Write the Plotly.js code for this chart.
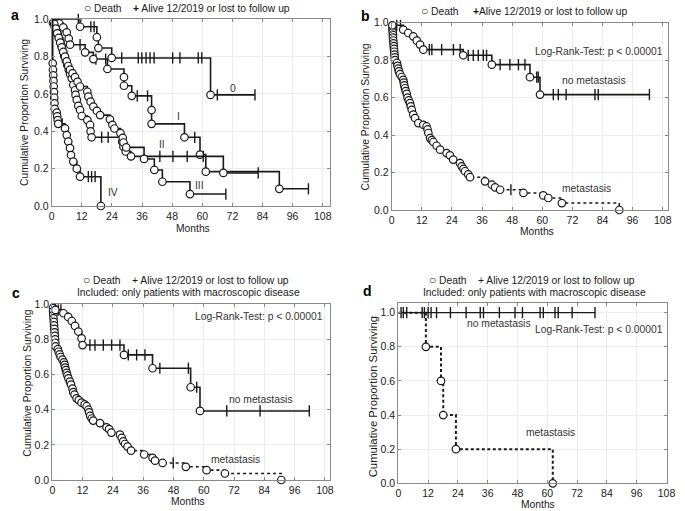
<!DOCTYPE html>
<html><head><meta charset="utf-8">
<script src="https://cdn.plot.ly/plotly-3.0.1.min.js"></script>
<style>html,body{margin:0;padding:0;background:#fff}</style>
</head><body><div id="chart" style="width:685px;height:511px"></div>
<script>
// ---------- axis ticks ----------
const xTickVals = [0, 12, 24, 36, 48, 60, 72, 84, 96, 108];
const xTickText = ['0', '12', '24', '36', '48', '60', '72', '84', '96', '108'];
const yTickVals = [0, 0.2, 0.4, 0.6, 0.8, 1.0];
const yTickText = ['0.0', '0.2', '0.4', '0.6', '0.8', '1.0'];

// ---------- panel a : stages ----------
const aStage0DeathT = [11.3, 18.0, 18.6, 23.9, 63.3];
const aStage0DeathS = [0.96, 0.904, 0.846, 0.793, 0.595];
const aStage0CensorT = [10.6, 15.6, 16.9, 27.9, 34.5, 35.9, 37.6, 39.2, 40.8, 48.2, 51.1, 58.4, 59.8, 66.0, 81.0];

const aStage1DeathT = [3.0, 4.6, 6.0, 6.8, 7.3, 13.3, 16.6, 22.2, 28.8, 28.8, 31.9, 39.8, 39.8, 52.9, 59.1, 61.4, 90.7];
const aStage1DeathS = [0.978, 0.957, 0.93, 0.897, 0.864, 0.823, 0.787, 0.734, 0.69, 0.644, 0.59, 0.514, 0.44, 0.368, 0.275, 0.184, 0.092];
const aStage1CensorT = [11.3, 17.6, 21.5, 34.1, 38.2, 57.0, 102.3];

const aStage2DeathT = [0.5, 1.2, 1.8, 2.4, 3.0, 3.5, 4.0, 4.5, 5.0, 5.6, 6.2, 6.8, 7.3, 8.0, 8.6, 9.3, 9.5, 10.0, 10.6, 11.3, 12.0, 14.2, 15.3, 15.5, 15.9, 28.1, 28.6, 29.5, 31.6, 68.4];
const aStage2DeathS = [0.98, 0.96, 0.94, 0.92, 0.90, 0.88, 0.855, 0.83, 0.805, 0.78, 0.755, 0.73, 0.707, 0.684, 0.648, 0.62, 0.595, 0.568, 0.536, 0.514, 0.482, 0.46, 0.434, 0.40, 0.368, 0.344, 0.318, 0.292, 0.266, 0.177];
const aStage2CensorT = [19.9, 22.5, 43.1, 48.3, 54.0, 60.4, 82.3];

const aStage3DeathT = [1.0, 1.6, 2.2, 2.8, 3.4, 4.0, 4.6, 5.3, 6.0, 6.6, 7.3, 8.3, 9.3, 10.3, 11.3, 14.2, 14.6, 15.5, 16.6, 18.0, 19.3, 23.2, 24.2, 25.0, 27.4, 28.3, 28.6, 29.7, 36.8, 40.9, 44.1, 55.1];
const aStage3DeathS = [0.975, 0.95, 0.925, 0.90, 0.875, 0.85, 0.825, 0.80, 0.775, 0.75, 0.73, 0.71, 0.69, 0.665, 0.64, 0.612, 0.586, 0.559, 0.532, 0.51, 0.487, 0.464, 0.435, 0.415, 0.39, 0.365, 0.34, 0.314, 0.252, 0.193, 0.13, 0.064];
const aStage3CensorT = [69.4];

const aStage4DeathT = [0.4, 0.5, 0.6, 0.7, 0.8, 0.9, 1.0, 1.1, 1.2, 2.0, 2.2, 2.4, 2.6, 5.3, 6.0, 6.6, 7.3, 7.7, 8.6, 10.0, 11.3, 19.6];
const aStage4DeathS = [0.764, 0.73, 0.70, 0.67, 0.64, 0.61, 0.58, 0.55, 0.52, 0.50, 0.48, 0.46, 0.44, 0.416, 0.38, 0.345, 0.31, 0.273, 0.238, 0.20, 0.157, 0];
const aStage4CensorT = [4.2, 14.6, 15.9, 17.3];

const aStageLabels = ['0', 'I', 'II', 'III', 'IV'];

// ---------- panel b : metastasis vs none ----------
const bNoMetDeathT = [0.25, 4.6, 6.6, 8.6, 10.0, 11.3, 12.6, 28.5, 39.9, 55.1, 59.1];
const bNoMetDeathS = [0.986, 0.963, 0.945, 0.927, 0.904, 0.883, 0.856, 0.826, 0.776, 0.709, 0.616];
const bNoMetCensorT = [2.0, 3.5, 15.0, 16.0, 19.9, 24.6, 27.3, 30.5, 32.5, 34.5, 36.5, 37.8, 43.2, 47.1, 50.5, 53.1, 57.8, 58.4, 64.4, 66.4, 69.5, 81.0, 82.3, 102.7];

const bMetDeathT = [0.3, 0.3, 0.4, 0.5, 0.5, 0.6, 0.7, 0.8, 0.9, 1.0, 1.1, 1.2, 1.3, 2.1, 2.3, 2.6, 2.9, 3.3, 4.0, 4.6, 4.8, 5.0, 5.3, 5.6, 6.0, 6.3, 6.8, 7.3, 7.6, 8.0, 8.6, 9.3, 10.6, 12.6, 13.9, 14.3, 14.6, 15.3, 16.0, 16.6, 17.9, 19.3, 21.9, 23.2, 24.5, 27.2, 27.9, 28.6, 29.2, 30.5, 31.2, 37.2, 39.9, 41.2, 43.2, 52.5, 60.4, 62.4, 67.8, 90.7];
const bMetDeathS = [0.98, 0.965, 0.95, 0.935, 0.92, 0.905, 0.89, 0.875, 0.86, 0.845, 0.83, 0.815, 0.80, 0.785, 0.77, 0.755, 0.74, 0.725, 0.71, 0.695, 0.68, 0.665, 0.65, 0.635, 0.62, 0.60, 0.585, 0.571, 0.553, 0.535, 0.509, 0.491, 0.464, 0.455, 0.446, 0.43, 0.411, 0.384, 0.373, 0.363, 0.343, 0.322, 0.304, 0.292, 0.269, 0.25, 0.233, 0.22, 0.207, 0.19, 0.175, 0.153, 0.135, 0.121, 0.108, 0.091, 0.078, 0.064, 0.037, 0];
const bMetCensorT = [47.5];

// ---------- panel c : macroscopic disease only ----------
const cNoMetDeathT = [1.2, 4.4, 6.3, 7.7, 9.0, 10.3, 11.6, 12.0, 28.4, 39.7, 54.8, 58.5];
const cNoMetDeathS = [0.968, 0.949, 0.928, 0.905, 0.877, 0.845, 0.806, 0.768, 0.712, 0.636, 0.528, 0.393];
const cNoMetCensorT = [2.4, 3.4, 14.9, 16.9, 20.2, 23.5, 26.8, 30.1, 33.4, 36.7, 42.6, 53.9, 57.2, 69.1, 82.3, 101.8];

const cMetDeathT = [0.3, 0.3, 0.4, 0.5, 0.6, 0.7, 0.8, 0.9, 1.0, 1.1, 1.2, 1.3, 2.2, 2.5, 2.9, 3.3, 4.0, 4.6, 4.9, 5.1, 5.4, 5.7, 6.0, 6.4, 7.0, 7.4, 8.0, 8.3, 8.8, 9.6, 10.5, 11.6, 12.8, 13.6, 14.3, 14.6, 15.0, 15.6, 16.2, 18.9, 21.5, 22.5, 23.4, 26.8, 27.5, 28.1, 28.8, 29.8, 31.2, 36.4, 39.7, 40.7, 43.7, 52.9, 61.1, 68.4, 90.7];
const cMetDeathS = [0.98, 0.96, 0.94, 0.92, 0.90, 0.88, 0.86, 0.84, 0.82, 0.80, 0.78, 0.76, 0.745, 0.73, 0.715, 0.70, 0.685, 0.67, 0.655, 0.64, 0.625, 0.61, 0.595, 0.578, 0.56, 0.543, 0.52, 0.50, 0.486, 0.465, 0.455, 0.44, 0.43, 0.42, 0.40, 0.385, 0.365, 0.35, 0.338, 0.324, 0.30, 0.29, 0.27, 0.258, 0.24, 0.22, 0.205, 0.19, 0.167, 0.145, 0.126, 0.11, 0.097, 0.075, 0.056, 0.037, 0];
const cMetCensorT = [47.9];

// ---------- panel d ----------
const dNoMetDeathT = [];
const dNoMetDeathS = [];
const dNoMetCensorT = [1.1, 2.0, 3.4, 9.6, 10.5, 12.0, 13.2, 15.4, 21.0, 27.3, 33.0, 34.3, 40.7, 47.0, 50.0, 57.1, 58.4, 63.1, 64.4, 70.0, 79.2];
const dMetDeathT = [11.1, 17.2, 18.1, 23.2, 62.2];
const dMetDeathS = [0.8, 0.6, 0.4, 0.2, 0];
const dMetCensorT = [];

// ---------- texts ----------
const legendTextA = '<span style="font-size:12px">○</span> Death    <b>+</b> Alive 12/2019 or lost to follow up';
const legendTextB = '<span style="font-size:12px">○</span> Death     <b>+</b>Alive 12/2019 or lost to follow up';
const legendTextCD = '<span style="font-size:12px">○</span> Death    + Alive 12/2019 or lost to follow up';
const subsetText = 'Included: only patients with macroscopic disease';
const logRankText = 'Log-Rank-Test: p < 0.00001';
const xTitle = 'Months';
const yTitle = 'Cumulative Proportion Surviving';

// ---------- helpers ----------
const W = 685, H = 511;
const FONT = 'Liberation Sans, Arial, Helvetica, sans-serif';
const INK = '#1a1a1a';
function px(p) { return p / W; }
function py(p) { return 1 - p / H; }

function survAt(t, dT, dS) {
  let s = 1;
  for (let i = 0; i < dT.length; i++) if (dT[i] <= t) s = dS[i];
  return s;
}
function kmTraces(dT, dS, cT, xa, ya, dash, lw) {
  const end = Math.max(0, ...dT, ...cT);
  const lx = [0], ly = [1];
  for (let i = 0; i < dT.length; i++) { lx.push(dT[i]); ly.push(dS[i]); }
  const lastT = dT.length ? dT[dT.length - 1] : 0;
  if (end > lastT) { lx.push(end); ly.push(survAt(end, dT, dS)); }
  const out = [];
  out.push({ x: lx, y: ly, xaxis: xa, yaxis: ya, mode: 'lines', type: 'scatter',
    line: { shape: 'hv', color: INK, width: lw || 1.6, dash: dash || 'solid' },
    hoverinfo: 'skip', showlegend: false, cliponaxis: false });
  if (cT.length) out.push({ x: cT, y: cT.map(t => survAt(t, dT, dS)), xaxis: xa, yaxis: ya,
    mode: 'markers', type: 'scatter', showlegend: false, cliponaxis: false, hoverinfo: 'skip',
    marker: { symbol: 'line-ns-open', size: 8, color: INK, line: { color: INK, width: 1.4 } } });
  if (dT.length) out.push({ x: dT, y: dS, xaxis: xa, yaxis: ya, mode: 'markers', type: 'scatter',
    showlegend: false, cliponaxis: false, hoverinfo: 'skip',
    marker: { symbol: 'circle', size: 7.5, color: '#ffffff', line: { color: INK, width: 1.2 } } });
  return out;
}

let traces = [];
traces = traces.concat(kmTraces(aStage0DeathT, aStage0DeathS, aStage0CensorT, 'x', 'y'));
traces = traces.concat(kmTraces(aStage1DeathT, aStage1DeathS, aStage1CensorT, 'x', 'y'));
traces = traces.concat(kmTraces(aStage2DeathT, aStage2DeathS, aStage2CensorT, 'x', 'y'));
traces = traces.concat(kmTraces(aStage3DeathT, aStage3DeathS, aStage3CensorT, 'x', 'y'));
traces = traces.concat(kmTraces(aStage4DeathT, aStage4DeathS, aStage4CensorT, 'x', 'y'));
traces = traces.concat(kmTraces(bMetDeathT, bMetDeathS, bMetCensorT, 'x2', 'y2', '3px,3px'));
traces = traces.concat(kmTraces(bNoMetDeathT, bNoMetDeathS, bNoMetCensorT, 'x2', 'y2'));
traces = traces.concat(kmTraces(cMetDeathT, cMetDeathS, cMetCensorT, 'x3', 'y3', '3px,3px'));
traces = traces.concat(kmTraces(cNoMetDeathT, cNoMetDeathS, cNoMetCensorT, 'x3', 'y3'));
traces = traces.concat(kmTraces(dMetDeathT, dMetDeathS, dMetCensorT, 'x4', 'y4', '3px,2.5px', 2));
traces = traces.concat(kmTraces(dNoMetDeathT, dNoMetDeathS, dNoMetCensorT, 'x4', 'y4', 'solid', 1.3));

function xAxis(l, r, xmax, anchor) {
  return { domain: [px(l), px(r)], range: [0, xmax], anchor: anchor,
    tickmode: 'array', tickvals: xTickVals, ticktext: xTickText,
    ticks: 'inside', ticklen: 3, tickcolor: '#888', showline: true, linecolor: '#8a8a8a', linewidth: 1,
    mirror: 'ticks', showgrid: true, gridcolor: '#ececec', gridwidth: 1, zeroline: false,
    tickfont: { family: FONT, size: 10.5, color: INK }, fixedrange: true };
}
function yAxis(t, b, ymax, anchor) {
  return { domain: [py(b), py(t)], range: [0, ymax], anchor: anchor,
    tickmode: 'array', tickvals: yTickVals, ticktext: yTickText,
    ticks: 'inside', ticklen: 3, tickcolor: '#888', showline: true, linecolor: '#8a8a8a', linewidth: 1,
    mirror: 'ticks', showgrid: true, gridcolor: '#ececec', gridwidth: 1, zeroline: false,
    tickfont: { family: FONT, size: 10.5, color: INK }, fixedrange: true };
}

const ann = [];
function txt(x, y, text, opts) {
  ann.push(Object.assign({ x: x, y: y, xref: 'paper', yref: 'paper', text: text, showarrow: false,
    xanchor: 'center', yanchor: 'middle', font: { family: FONT, size: 10.3, color: INK } }, opts || {}));
}
function dtxt(xa, ya, x, y, text) {
  ann.push({ x: x, y: y, xref: xa, yref: ya, text: text, showarrow: false,
    xanchor: 'center', yanchor: 'middle', font: { family: FONT, size: 10.3, color: '#333' } });
}
// panel letters
const boldFont = { family: FONT, size: 14, color: '#000', weight: 700 };
txt(px(15), py(15), '<b>a</b>', { font: boldFont });
txt(px(366), py(16), '<b>b</b>', { font: boldFont });
txt(px(16), py(293), '<b>c</b>', { font: boldFont });
txt(px(367), py(291), '<b>d</b>', { font: boldFont });
// legends
txt(px(186.5), py(7.5), legendTextA);
txt(px(524), py(11), legendTextB);
txt(px(186), py(280), legendTextCD);
txt(px(188), py(292.7), subsetText);
txt(px(531.5), py(280), legendTextCD);
txt(px(534.5), py(292.7), subsetText);
// axis titles
txt(px(192.7), py(228.5), xTitle);
txt(px(536.7), py(231.5), xTitle);
txt(px(188.3), py(501.5), xTitle);
txt(px(538.3), py(504.5), xTitle);
txt(px(25), py(113), yTitle, { textangle: -90 });
txt(px(365), py(117.5), yTitle, { textangle: -90 });
txt(px(26.7), py(383), yTitle, { textangle: -90 });
txt(px(373.3), py(397), yTitle, { textangle: -90, font: { family: FONT, size: 11.3, color: INK } });
// curve labels panel a
dtxt('x', 'y', 72.4, 0.63, aStageLabels[0]);
dtxt('x', 'y', 50.5, 0.48, aStageLabels[1]);
dtxt('x', 'y', 43.8, 0.33, aStageLabels[2]);
dtxt('x', 'y', 59.0, 0.11, aStageLabels[3]);
dtxt('x', 'y', 24.6, 0.07, aStageLabels[4]);
// panel b
dtxt('x2', 'y2', 82.6, 0.845, logRankText);
dtxt('x2', 'y2', 80.6, 0.689, 'no metastasis');
dtxt('x2', 'y2', 77.7, 0.116, 'metastasis');
// panel c
dtxt('x3', 'y3', 82.0, 0.929, logRankText);
dtxt('x3', 'y3', 82.7, 0.461, 'no metastasis');
dtxt('x3', 'y3', 72.4, 0.114, 'metastasis');
// panel d
dtxt('x4', 'y4', 40.7, 0.934, 'no metastasis');
dtxt('x4', 'y4', 80.9, 0.899, logRankText);
dtxt('x4', 'y4', 61.3, 0.299, 'metastasis');

const layout = {
  width: W, height: H, margin: { l: 0, r: 0, t: 0, b: 0 },
  paper_bgcolor: '#fff', plot_bgcolor: '#fff', showlegend: false,
  font: { family: FONT, size: 10.5, color: INK },
  xaxis: xAxis(51.7, 330, 110.9, 'y'),
  yaxis: yAxis(19.3, 206, 1.0, 'x'),
  xaxis2: xAxis(391.7, 668, 110.1, 'y2'),
  yaxis2: yAxis(22.7, 210, 1.0, 'x2'),
  xaxis3: xAxis(52.3, 330, 110.0, 'y3'),
  yaxis3: yAxis(304.3, 480, 1.0, 'x3'),
  xaxis4: xAxis(398.3, 666.5, 108.0, 'y4'),
  yaxis4: yAxis(303.3, 483.3, 1.055, 'x4'),
  annotations: ann
};
Plotly.newPlot('chart', traces, layout, { staticPlot: true, displayModeBar: false });
</script></body></html>
